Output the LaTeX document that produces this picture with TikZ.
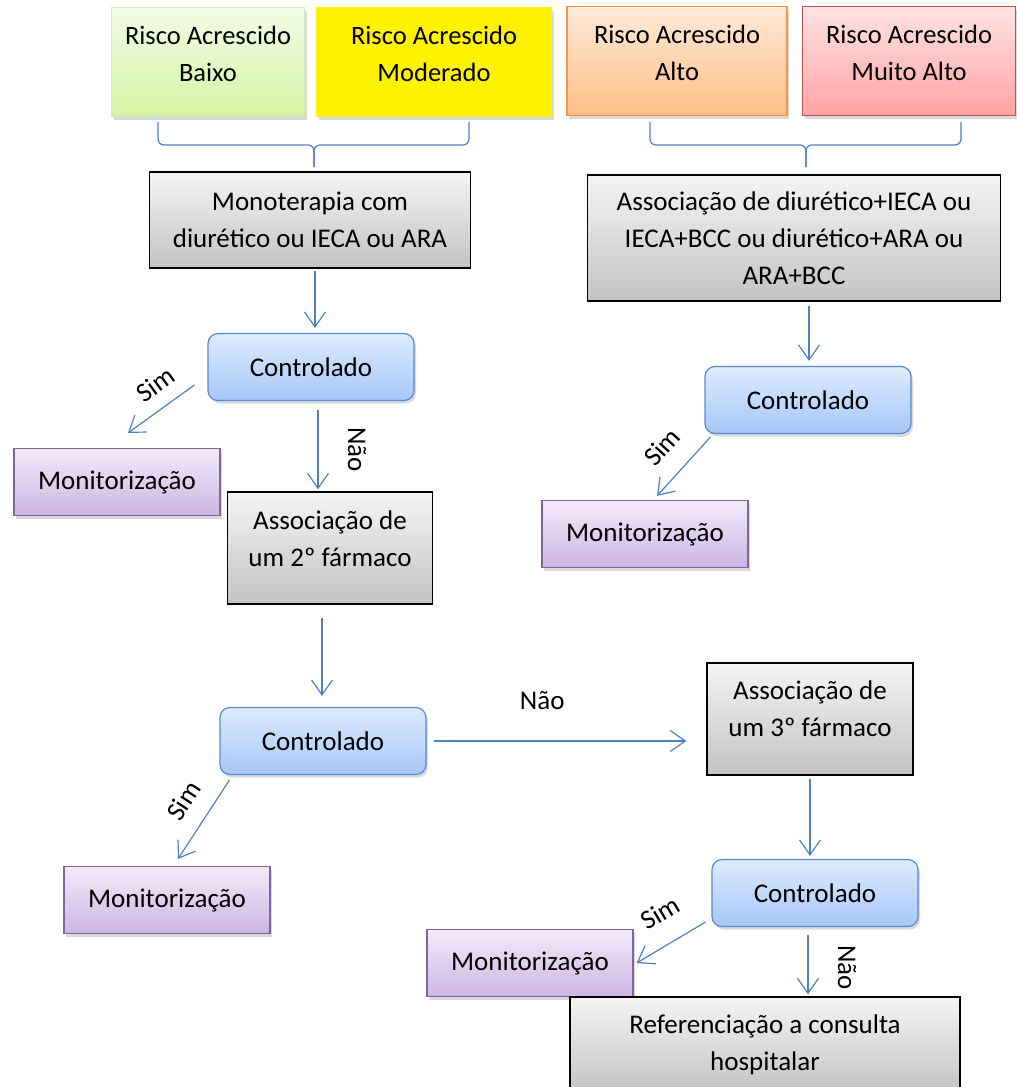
\documentclass[tikz,border=0pt]{standalone}
\usepackage{fontspec}
\setmainfont{Carlito}
\usepackage{tikz}
\usetikzlibrary{arrows.meta,shadows}
\definecolor{flowblue}{HTML}{4F81BD}
\definecolor{greenTop}{HTML}{F2FBE6}
\definecolor{greenBot}{HTML}{D4F4A2}
\definecolor{greenLine}{HTML}{D5E6BD}
\definecolor{orangeTop}{HTML}{FFEADB}
\definecolor{orangeBot}{HTML}{FBBE84}
\definecolor{orangeLine}{HTML}{F79646}
\definecolor{redTop}{HTML}{FFE3E3}
\definecolor{redBot}{HTML}{FFA3A3}
\definecolor{redLine}{HTML}{C0504D}
\definecolor{grayTop}{HTML}{F4F4F4}
\definecolor{grayBot}{HTML}{C3C3C3}
\definecolor{blueTop}{HTML}{DDEBFE}
\definecolor{blueBot}{HTML}{A6C7F8}
\definecolor{blueLine}{HTML}{5A8ACB}
\definecolor{purpleTop}{HTML}{F3EBF9}
\definecolor{purpleBot}{HTML}{CCB5E3}
\definecolor{purpleLine}{HTML}{8064A2}
\newcommand\lowpad[1]{\rule[-#1]{0pt}{#1}}

\begin{document}
\begin{tikzpicture}[x=1pt, y=-1pt,
  font=\fontsize{27}{37}\selectfont,
  shadowed/.style={drop shadow={shadow xshift=2pt, shadow yshift=-3pt, opacity=0.3}},
  risk/.style={shadowed, draw, line width=1.2pt, align=center, inner sep=0pt,
    font=\fontsize{26.5}{37}\selectfont, minimum height=109pt},
  drug/.style={draw=black, line width=1.4pt, align=center, inner sep=0pt,
    top color=grayTop, bottom color=grayBot},
  check/.style={shadowed, draw=blueLine, line width=1.2pt, rounded corners=10pt,
    top color=blueTop, bottom color=blueBot, minimum width=206pt, minimum height=67pt},
  monit/.style={shadowed, draw=purpleLine, line width=1.2pt,
    top color=purpleTop, bottom color=purpleBot, minimum width=206pt, minimum height=67pt},
  flow/.style={line width=1.2pt,
    -{Straight Barb[length=15pt,width=21pt,line width=1.2pt]},
    every edge/.append style={draw=flowblue}},
  brace/.style={draw=flowblue, line width=1.2pt, rounded corners=6pt}
]
\useasboundingbox (0,0) rectangle (1017,1087);

\node[risk, draw=greenLine, top color=greenTop, bottom color=greenBot, minimum width=193pt]
  (baixo) at (208,62) {Risco Acrescido\\Baixo\lowpad{16pt}};
\node[risk, draw=yellow, fill=yellow, minimum width=235pt]
  (moderado) at (434,62) {Risco Acrescido\\Moderado\lowpad{16pt}};
\node[risk, draw=orangeLine, top color=orangeTop, bottom color=orangeBot, minimum width=220pt]
  (alto) at (677,61) {Risco Acrescido\\Alto\lowpad{16pt}};
\node[risk, draw=redLine, top color=redTop, bottom color=redBot, minimum width=213pt]
  (muitoalto) at (909,61) {Risco Acrescido\\Muito Alto\lowpad{16pt}};

\path[brace] (158,122) -- (158,145) -- (314,145) -- (314,167);
\path[brace] (469,122) -- (469,145) -- (314,145) -- (314,167);
\path[brace] (650,122) -- (650,145) -- (806,145) -- (806,167);
\path[brace] (961,122) -- (961,145) -- (806,145) -- (806,167);

\node[drug, minimum width=321pt, minimum height=96pt]
  (mono) at (310,220) {Monoterapia com\\diurético ou IECA ou ARA};
\node[drug, minimum width=413pt, minimum height=126pt]
  (assocR) at (794,238) {Associação de diurético+IECA ou\\IECA+BCC ou diurético+ARA ou\\ARA+BCC};

\node[check] (ctrlA) at (311,367) {Controlado};
\node[monit] (monA) at (117,482) {Monitorização};
\node[drug, minimum width=205pt, minimum height=112pt]
  (segundo) at (330,548) {Associação de\\um 2º fármaco\lowpad{18pt}};
\node[check] (ctrlB) at (323,741) {Controlado};
\node[monit] (monB) at (167,900) {Monitorização};
\node[drug, minimum width=206pt, minimum height=112pt]
  (terceiro) at (810,719) {Associação de\\um 3º fármaco\lowpad{20pt}};
\node[check] (ctrlC) at (815,893) {Controlado};
\node[monit] (monC) at (530,963) {Monitorização};
\node[drug, minimum width=390pt, minimum height=96pt]
  (hosp) at (765,1045) {Referenciação a consulta\\hospitalar};
\node[check] (ctrlD) at (808,400) {Controlado};
\node[monit] (monD) at (645,534) {Monitorização};

\path[flow]
  ([xshift=5pt,yshift=-2pt]mono.south) edge ([xshift=4pt,yshift=5pt]ctrlA.north)
  ([xshift=-13pt,yshift=-18pt]ctrlA.west) edge node[sloped, above=10pt, pos=0.38] {Sim} ([xshift=11pt,yshift=15pt]monA.north)
  ([xshift=7pt,yshift=-9pt]ctrlA.south) edge node[sloped, above=26pt] {Não} ([xshift=-12pt,yshift=2pt]segundo.north)
  ([xshift=-8pt,yshift=-13pt]segundo.south) edge ([xshift=-1pt,yshift=11pt]ctrlB.north)
  ([xshift=7pt]ctrlB.east) edge node[pos=0.43, above=27pt] {Não} ([xshift=-20pt]ctrlB.east -| terceiro.west)
  ([xshift=10pt,yshift=-5pt]ctrlB.south west) edge node[sloped, above=14pt, pos=0.45] {Sim} ([xshift=11pt,yshift=7pt]monB.north)
  ([yshift=-3pt]terceiro.south) edge ([xshift=-5pt,yshift=3pt]ctrlC.north)
  ([xshift=-6pt,yshift=5pt]ctrlC.south west) edge node[sloped, above=18pt, pos=0.42] {Sim} ([xshift=3pt]monC.east)
  ([xshift=-7pt,yshift=-8pt]ctrlC.south) edge node[sloped, above=26pt, pos=0.55] {Não} ([xshift=-7pt,yshift=2pt]ctrlC.south |- hosp.north)
  ([xshift=15pt,yshift=-4pt]assocR.south) edge ([xshift=1pt,yshift=5pt]ctrlD.north)
  ([xshift=6pt,yshift=-3pt]ctrlD.south west) edge node[sloped, above=16pt] {Sim} ([xshift=12pt,yshift=4pt]monD.north)
  ;
\end{tikzpicture}
\end{document}
